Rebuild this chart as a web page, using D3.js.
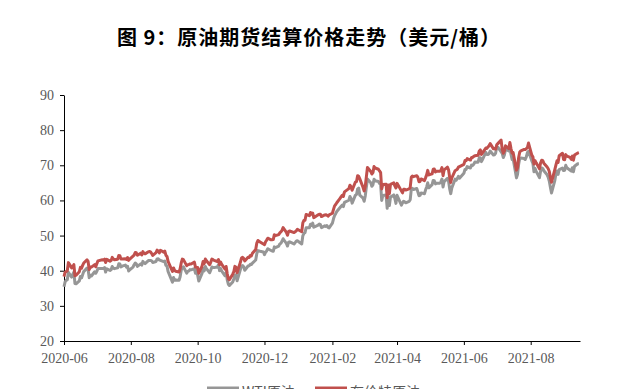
<!DOCTYPE html>
<html>
<head>
<meta charset="UTF-8">
<title>原油期货结算价格走势</title>
<script src="https://cdn.jsdelivr.net/npm/d3@7/dist/d3.min.js"></script>
<style>
  body { margin: 0; background: #fff; }
  .title { font-family: "Noto Sans CJK SC", serif; font-weight: bold; font-size: 20px; letter-spacing: 1px; fill: #000; }
  .axis text { font-family: "Liberation Serif", "Times New Roman", serif; font-size: 14px; fill: #595959; }
  .axis path, .axis line { stroke: #000; }
  .line { fill: none; stroke-width: 3px; stroke-linejoin: round; }
  .legend text { font-family: "Noto Sans CJK SC", serif; font-size: 14px; fill: #595959; }
</style>
</head>
<body>
<div id="graphe"></div>
<script>
// dates de cotation (une ligne par mois)
var dates = [
  "2020-06-01","2020-06-02","2020-06-03","2020-06-04","2020-06-05","2020-06-08","2020-06-09","2020-06-10","2020-06-11","2020-06-12","2020-06-15","2020-06-16","2020-06-17","2020-06-18","2020-06-19","2020-06-22","2020-06-23","2020-06-24","2020-06-25","2020-06-26","2020-06-29","2020-06-30",
  "2020-07-01","2020-07-02","2020-07-06","2020-07-07","2020-07-08","2020-07-09","2020-07-10","2020-07-13","2020-07-14","2020-07-15","2020-07-16","2020-07-17","2020-07-20","2020-07-21","2020-07-22","2020-07-23","2020-07-24","2020-07-27","2020-07-28","2020-07-29","2020-07-30","2020-07-31",
  "2020-08-03","2020-08-04","2020-08-05","2020-08-06","2020-08-07","2020-08-10","2020-08-11","2020-08-12","2020-08-13","2020-08-14","2020-08-17","2020-08-18","2020-08-19","2020-08-20","2020-08-21","2020-08-24","2020-08-25","2020-08-26","2020-08-27","2020-08-28","2020-08-31",
  "2020-09-01","2020-09-02","2020-09-03","2020-09-04","2020-09-08","2020-09-09","2020-09-10","2020-09-11","2020-09-14","2020-09-15","2020-09-16","2020-09-17","2020-09-18","2020-09-21","2020-09-22","2020-09-23","2020-09-24","2020-09-25","2020-09-28","2020-09-29","2020-09-30",
  "2020-10-01","2020-10-02","2020-10-05","2020-10-06","2020-10-07","2020-10-08","2020-10-09","2020-10-12","2020-10-13","2020-10-14","2020-10-15","2020-10-16","2020-10-19","2020-10-20","2020-10-21","2020-10-22","2020-10-23","2020-10-26","2020-10-27","2020-10-28","2020-10-29","2020-10-30",
  "2020-11-02","2020-11-03","2020-11-04","2020-11-05","2020-11-06","2020-11-09","2020-11-10","2020-11-11","2020-11-12","2020-11-13","2020-11-16","2020-11-17","2020-11-18","2020-11-19","2020-11-20","2020-11-23","2020-11-24","2020-11-25","2020-11-27","2020-11-30",
  "2020-12-01","2020-12-02","2020-12-03","2020-12-04","2020-12-07","2020-12-08","2020-12-09","2020-12-10","2020-12-11","2020-12-14","2020-12-15","2020-12-16","2020-12-17","2020-12-18","2020-12-21","2020-12-22","2020-12-23","2020-12-24","2020-12-28","2020-12-29","2020-12-30","2020-12-31",
  "2021-01-04","2021-01-05","2021-01-06","2021-01-07","2021-01-08","2021-01-11","2021-01-12","2021-01-13","2021-01-14","2021-01-15","2021-01-19","2021-01-20","2021-01-21","2021-01-22","2021-01-25","2021-01-26","2021-01-27","2021-01-28","2021-01-29",
  "2021-02-01","2021-02-02","2021-02-03","2021-02-04","2021-02-05","2021-02-08","2021-02-09","2021-02-10","2021-02-11","2021-02-12","2021-02-16","2021-02-17","2021-02-18","2021-02-19","2021-02-22","2021-02-23","2021-02-24","2021-02-25","2021-02-26",
  "2021-03-01","2021-03-02","2021-03-03","2021-03-04","2021-03-05","2021-03-08","2021-03-09","2021-03-10","2021-03-11","2021-03-12","2021-03-15","2021-03-16","2021-03-17","2021-03-18","2021-03-19","2021-03-22","2021-03-23","2021-03-24","2021-03-25","2021-03-26","2021-03-29","2021-03-30","2021-03-31",
  "2021-04-01","2021-04-05","2021-04-06","2021-04-07","2021-04-08","2021-04-09","2021-04-12","2021-04-13","2021-04-14","2021-04-15","2021-04-16","2021-04-19","2021-04-20","2021-04-21","2021-04-22","2021-04-23","2021-04-26","2021-04-27","2021-04-28","2021-04-29","2021-04-30",
  "2021-05-03","2021-05-04","2021-05-05","2021-05-06","2021-05-07","2021-05-10","2021-05-11","2021-05-12","2021-05-13","2021-05-14","2021-05-17","2021-05-18","2021-05-19","2021-05-20","2021-05-21","2021-05-24","2021-05-25","2021-05-26","2021-05-27","2021-05-28",
  "2021-06-01","2021-06-02","2021-06-03","2021-06-04","2021-06-07","2021-06-08","2021-06-09","2021-06-10","2021-06-11","2021-06-14","2021-06-15","2021-06-16","2021-06-17","2021-06-18","2021-06-21","2021-06-22","2021-06-23","2021-06-24","2021-06-25","2021-06-28","2021-06-29","2021-06-30",
  "2021-07-01","2021-07-02","2021-07-05","2021-07-06","2021-07-07","2021-07-08","2021-07-09","2021-07-12","2021-07-13","2021-07-14","2021-07-15","2021-07-16","2021-07-19","2021-07-20","2021-07-21","2021-07-22","2021-07-23","2021-07-26","2021-07-27","2021-07-28","2021-07-29","2021-07-30",
  "2021-08-02","2021-08-03","2021-08-04","2021-08-05","2021-08-06","2021-08-09","2021-08-10","2021-08-11","2021-08-12","2021-08-13","2021-08-16","2021-08-17","2021-08-18","2021-08-19","2021-08-20","2021-08-23","2021-08-24","2021-08-25","2021-08-26","2021-08-27","2021-08-30","2021-08-31",
  "2021-09-01","2021-09-02","2021-09-03","2021-09-06","2021-09-07","2021-09-08","2021-09-09","2021-09-10","2021-09-13","2021-09-14"
];

// WTI原油 (美元/桶)
var wti = [
  35.44,36.81,37.29,37.41,39.55,38.19,38.94,39.60,36.34,36.26,37.12,38.38,37.96,38.84,39.75,40.73,40.37,38.01,38.72,38.49,39.70,39.27,
  39.82,40.65,40.63,40.62,40.90,39.62,40.55,40.10,40.29,41.20,40.75,40.59,40.81,41.96,41.90,41.07,41.29,41.60,41.04,41.27,39.92,40.27,
  41.01,41.70,42.19,41.95,41.22,41.94,41.61,42.67,42.24,42.01,42.89,42.89,42.93,42.82,42.34,42.62,43.35,43.39,43.04,42.97,42.61,
  42.76,41.51,41.37,39.77,36.76,38.05,37.30,37.33,37.26,38.28,40.16,40.97,41.11,39.31,39.80,39.93,40.31,40.25,40.60,39.29,40.22,
  38.72,37.05,39.22,40.67,39.95,41.19,40.60,39.43,40.20,41.04,40.96,40.88,41.06,41.70,40.03,40.64,39.85,38.56,39.57,37.39,36.17,35.79,
  36.81,37.66,38.79,38.79,37.14,40.29,41.36,41.45,41.12,40.13,41.34,41.43,41.82,41.74,42.15,43.06,44.91,45.71,45.53,45.34,
  44.55,45.28,45.64,46.26,45.76,45.60,45.52,46.78,46.57,46.99,47.62,47.82,48.36,49.10,47.74,47.02,48.12,48.23,47.62,48.00,48.40,48.52,
  47.62,49.93,50.63,50.83,52.24,52.25,53.21,52.91,53.57,52.36,52.98,53.31,53.13,52.27,52.77,52.61,52.85,52.34,52.20,
  53.55,54.76,55.69,56.23,56.85,57.97,58.36,58.68,58.24,59.47,60.05,61.14,60.52,59.24,61.49,61.67,63.22,63.53,61.50,
  60.64,59.75,61.28,63.83,66.09,65.05,64.01,64.44,66.02,65.61,65.39,64.80,64.60,60.00,61.42,61.55,57.76,61.18,58.56,60.97,61.56,60.55,59.16,
  61.45,58.65,59.33,59.77,59.60,59.32,59.70,60.18,63.15,63.46,63.13,63.38,62.44,61.35,61.43,62.14,61.91,62.94,63.86,65.01,63.58,
  64.49,65.69,65.63,64.71,64.90,64.92,65.28,66.08,63.82,65.37,66.27,65.49,63.36,61.94,63.58,66.05,65.76,66.21,66.85,66.32,
  67.72,68.83,68.81,69.62,69.23,70.05,69.96,70.29,70.91,70.88,72.12,72.15,71.04,71.64,73.66,73.06,73.08,73.30,74.05,72.91,72.98,73.47,
  75.23,75.16,null,73.37,72.20,72.94,74.56,74.10,75.25,73.13,71.65,71.81,66.42,67.42,70.30,71.91,72.07,71.91,71.65,72.39,73.62,73.95,
  71.26,70.56,68.15,69.09,68.28,66.48,68.29,69.25,69.09,68.44,67.29,66.59,65.46,63.69,62.14,65.64,67.54,68.36,67.42,68.74,69.21,68.50,
  68.59,69.99,69.29,null,68.35,69.30,68.14,69.72,70.45,70.46
];

// 布伦特原油 (美元/桶)
var brent = [
  38.32,39.57,39.79,39.99,42.30,40.80,41.18,41.73,38.55,38.73,39.72,40.96,40.71,41.51,42.19,43.08,42.63,40.31,41.05,41.02,41.71,41.15,
  42.03,42.80,43.10,43.08,43.29,42.35,43.24,42.72,42.90,43.79,43.37,43.14,43.28,44.32,44.29,43.31,43.34,43.41,43.22,43.75,42.94,43.30,
  44.15,44.43,45.17,45.09,44.40,44.99,44.50,45.43,44.96,44.80,45.37,45.46,45.37,44.90,44.35,45.13,45.86,45.64,45.09,45.81,45.28,
  45.58,44.43,44.07,42.66,39.78,40.79,40.06,39.83,39.61,40.53,42.22,43.30,43.15,41.44,41.72,41.77,41.94,41.92,42.43,41.03,40.95,
  40.93,39.27,41.29,42.65,41.99,43.34,42.85,41.72,42.45,43.32,43.16,42.93,42.62,43.16,41.73,42.46,41.77,40.46,41.20,39.12,37.65,37.46,
  39.01,39.71,41.23,40.93,39.45,42.40,43.61,43.80,43.53,42.78,43.82,43.75,44.34,44.20,44.96,46.06,47.86,48.61,48.18,47.59,
  47.42,48.25,48.71,49.25,48.79,48.84,48.86,50.25,49.97,50.29,50.76,51.08,51.50,52.26,50.91,50.08,51.20,51.29,50.86,51.09,51.34,51.80,
  51.09,53.60,54.30,54.38,55.99,55.66,56.58,56.06,56.42,55.10,55.90,56.08,56.10,55.41,55.88,55.91,55.81,55.53,55.88,
  56.35,57.46,58.46,58.84,59.34,60.56,61.09,61.47,61.14,62.43,63.35,64.34,63.93,62.91,65.24,65.37,67.04,66.88,66.13,
  63.69,62.70,64.07,66.74,69.36,68.24,67.52,67.90,69.63,69.22,68.88,68.39,68.00,63.28,64.53,64.62,60.79,64.41,61.95,64.57,64.98,64.14,63.54,
  64.86,null,62.15,63.16,63.20,62.95,63.28,63.67,66.58,66.94,66.77,67.05,66.57,65.32,65.40,66.11,65.65,66.42,67.27,68.56,67.25,
  67.56,68.88,68.96,68.09,68.28,68.32,68.55,69.32,67.05,68.71,69.46,68.71,66.66,65.11,66.44,68.46,68.65,68.87,69.46,69.63,
  70.25,71.35,71.31,71.89,71.49,72.22,72.22,72.52,72.69,72.86,73.99,74.39,73.08,73.51,74.90,74.81,75.19,75.56,76.18,74.68,74.76,74.62,
  75.84,76.17,77.16,74.53,73.43,74.12,75.55,74.76,76.49,74.76,73.47,73.59,68.62,69.35,72.23,73.79,74.10,74.50,74.48,74.74,75.05,76.33,
  72.89,72.41,70.38,71.29,70.70,69.04,70.63,71.44,71.31,70.59,69.51,69.03,68.23,66.45,65.18,68.75,70.05,71.25,70.79,72.70,73.41,71.63,
  71.59,73.03,72.61,72.22,71.69,72.60,71.45,72.92,73.51,73.60
];

var seriesNames = ["WTI原油", "布伦特原油"];
var seriesColors = ["#969696", "#c0504d"];
var yTicks = [20, 30, 40, 50, 60, 70, 80, 90];
var xTicks = ["2020-06-01", "2020-08-01", "2020-10-01", "2020-12-01", "2021-02-01", "2021-04-01", "2021-06-01", "2021-08-01"];

if (dates.length != wti.length || dates.length != brent.length) {
  console.log("longueurs différentes", dates.length, wti.length, brent.length);
}

var width = 626, height = 389;
var margin = {top: 95, right: 46, bottom: 48, left: 64};

var svg = d3.select("#graphe").append("svg")
  .attr("width", width)
  .attr("height", height);

svg.append("text")
  .attr("class", "title")
  .attr("x", 309)
  .attr("y", 45)
  .attr("text-anchor", "middle")
  .text("图 9：原油期货结算价格走势（美元/桶）");

var parse = d3.timeParse("%Y-%m-%d");
var days = dates.map(parse);

var x = d3.scaleTime()
  .domain([parse("2020-06-01"), parse("2021-09-15")])
  .range([margin.left, width - margin.right]);

var y = d3.scaleLinear()
  .domain([20, 90])
  .range([height - margin.bottom, margin.top]);

svg.append("g")
  .attr("class", "axis")
  .attr("transform", "translate(0," + (height - margin.bottom) + ")")
  .call(d3.axisBottom(x)
    .tickValues(xTicks.map(parse))
    .tickFormat(d3.timeFormat("%Y-%m"))
    .tickSize(4)
    .tickSizeOuter(0)
    .tickPadding(8));

svg.append("g")
  .attr("class", "axis")
  .attr("transform", "translate(" + margin.left + ",0)")
  .call(d3.axisLeft(y)
    .tickValues(yTicks)
    .tickSize(4)
    .tickSizeOuter(0)
    .tickPadding(6));

var line = d3.line()
  .x(function(d) { return x(d[0]); })
  .y(function(d) { return y(d[1]); });

[wti, brent].forEach(function(vals, i) {
  var pts = days.map(function(d, j) { return [d, vals[j]]; })
    .filter(function(p) { return p[1] != null; });
  svg.append("path")
    .datum(pts)
    .attr("class", "line")
    .attr("stroke", seriesColors[i])
    .attr("d", line);
});

// légende (coupée en bas comme l'original)
var legend = svg.append("g").attr("class", "legend");
var legX = [207, 315];
seriesNames.forEach(function(name, i) {
  legend.append("line")
    .attr("x1", legX[i]).attr("x2", legX[i] + 32)
    .attr("y1", 388).attr("y2", 388)
    .attr("stroke", seriesColors[i])
    .attr("stroke-width", 3);
  legend.append("text")
    .attr("x", legX[i] + 35)
    .attr("y", 397)
    .text(name);
});
</script>
</body>
</html>
